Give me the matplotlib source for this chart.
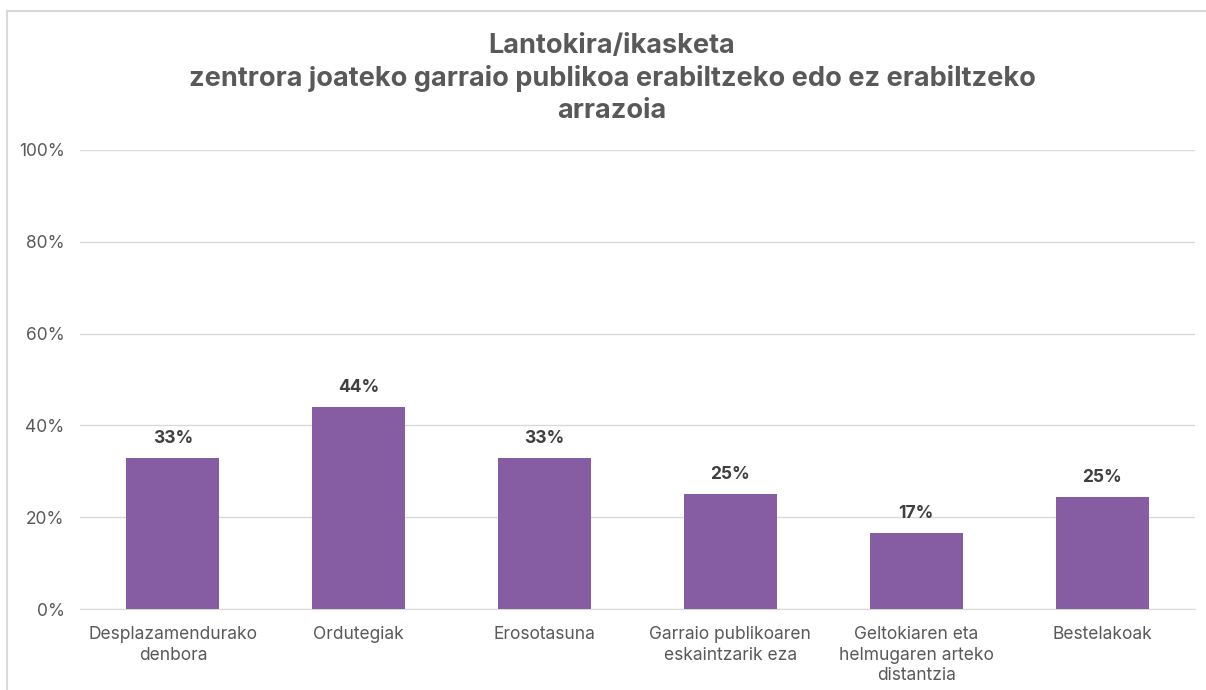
import matplotlib.pyplot as plt
import numpy as np
from matplotlib.lines import Line2D

plt.rcParams['font.family'] = ['Inter', 'DejaVu Sans']

categories = ['Desplazamendurako\ndenbora', 'Ordutegiak', 'Erosotasuna',
              'Garraio publikoaren\neskaintzarik eza',
              'Geltokiaren eta\nhelmugaren arteko\ndistantzia', 'Bestelakoak']
values = [33.0, 44.0, 33.0, 25.1, 16.6, 24.5]
labels = ['33%', '44%', '33%', '25%', '17%', '25%']
yticks = [0, 20, 40, 60, 80, 100]

title = 'Lantokira/ikasketa\nzentrora joateko garraio publikoa erabiltzeko edo ez erabiltzeko\narrazoia'

fig = plt.figure(figsize=(12.06, 6.9), dpi=100)
ax = fig.add_axes([80 / 1206, 1 - 609 / 690, 1115 / 1206, 459 / 690])

x = np.arange(len(categories))
ax.bar(x, values, width=0.5, color='#865ca3', zorder=3)

for xi, v, lab in zip(x, values, labels):
    ax.text(xi, v + 2.3, lab, ha='center', va='bottom', fontsize=12.5,
            fontweight='bold', color='#404040')

ax.set_xlim(-0.5, len(categories) - 0.5)
ax.set_ylim(0, 100)
ax.set_yticks(yticks)
ax.set_yticklabels([f'{t}%' for t in yticks])
ax.set_xticks(x)
ax.set_xticklabels(categories, linespacing=1.3)
ax.tick_params(axis='both', length=0, labelsize=12.5, labelcolor='#595959')
ax.tick_params(axis='x', pad=12)
ax.tick_params(axis='y', pad=11)
ax.grid(axis='y', color='#d9d9d9', linewidth=1, zorder=0)
for s in ['top', 'right', 'left']:
    ax.spines[s].set_visible(False)
ax.spines['bottom'].set_color('#d9d9d9')

fig.text(612 / 1206, 1 - 33 / 690, title, ha='center', va='top', fontsize=19.5,
         fontweight='bold', color='#595959', linespacing=1.3)

# frame of the chart area
fig.add_artist(Line2D([7 / 1206, 1], [1 - 11 / 690, 1 - 11 / 690],
                      color='#d9d9d9', linewidth=1.5))
fig.add_artist(Line2D([7 / 1206, 7 / 1206], [0, 1 - 11 / 690],
                      color='#d9d9d9', linewidth=1.5))

fig.savefig('out.png', dpi=100)
